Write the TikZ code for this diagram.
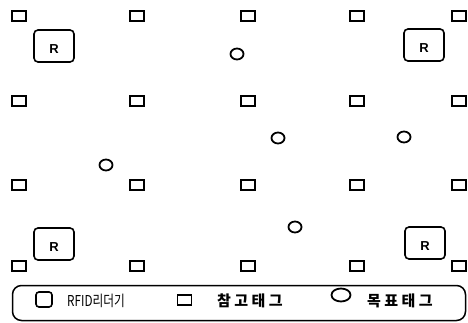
\documentclass[tikz,border=0pt]{standalone}
\usepackage{fontspec}
\setsansfont{Liberation Sans}
\newfontfamily\kofont{Noto Sans CJK KR}
\usepackage{tikz}
\usetikzlibrary{shapes.geometric, positioning}

\begin{document}
\begin{tikzpicture}[
    x=1pt, y=-1pt,
    reftag/.style={rectangle, draw=black, line width=1.8pt, minimum width=14pt, minimum height=10pt, inner sep=0pt},
    reader/.style={rectangle, draw=black, rounded corners=4pt, line width=1.6pt, minimum width=40pt, minimum height=32pt, inner sep=0pt, font=\sffamily\bfseries\fontsize{13}{15}\selectfont, text height=15pt, text depth=0pt},
    target/.style={ellipse, draw=black, line width=1.8pt, minimum width=13pt, minimum height=11pt, inner sep=0pt},
    legendbox/.style={rectangle, draw=black, line width=1.5pt, rounded corners=9pt, minimum width=453pt, minimum height=35pt, inner sep=0pt},
    legendtext/.style={font=\kofont\bfseries\fontsize{15}{17}\selectfont, anchor=west, inner sep=0pt},
]
\useasboundingbox (0,0) rectangle (468,323);

% ── Reference tags (grid) ──
\node[reftag] (t11) at (19,16) {};
\node[reftag] (t12) at (137,16) {};
\node[reftag] (t13) at (248,16) {};
\node[reftag] (t14) at (357,16) {};
\node[reftag] (t15) at (459,16) {};

\node[reftag] (t21) at (19,101) {};
\node[reftag] (t22) at (137,101) {};
\node[reftag] (t23) at (248,101) {};
\node[reftag] (t24) at (357,101) {};
\node[reftag] (t25) at (459,101) {};

\node[reftag] (t31) at (19,185) {};
\node[reftag] (t32) at (137,185) {};
\node[reftag] (t33) at (248,185) {};
\node[reftag] (t34) at (357,185) {};
\node[reftag] (t35) at (459,185) {};

\node[reftag] (t41) at (19,266) {};
\node[reftag] (t42) at (137,266) {};
\node[reftag] (t43) at (248,266) {};
\node[reftag] (t44) at (357,266) {};
\node[reftag] (t45) at (459,266) {};

% ── RFID readers ──
\node[reader] (r1) at (54,46) {R};
\node[reader] (r2) at (424,45) {R};
\node[reader] (r3) at (54,244) {R};
\node[reader] (r4) at (425,243) {R};

% ── Target tags ──
\node[target] (g1) at (237,54) {};
\node[target] (g2) at (278,138) {};
\node[target] (g3) at (404,137) {};
\node[target] (g4) at (106,165) {};
\node[target] (g5) at (295,227) {};

% ── Legend ──
\node[legendbox] (legend) at (239,303) {};
\node[reader, minimum width=16pt, minimum height=11pt, rounded corners=3pt] (lreader) at (44,299.5) {};
\node[legendtext, font=\kofont\fontsize{15}{17}\selectfont] (lreadertxt) at (67,301) {\scalebox{0.78}[1]{RFID리더기}};
\node[reftag] (lref) at (184.5,300) {};
\node[legendtext] (lreftxt) at (217,301) {참 고 태 그};
\node[target, minimum width=19pt, minimum height=13pt] (ltarget) at (341,295) {};
\node[legendtext] (ltargettxt) at (367,301) {목 표 태 그};

\end{tikzpicture}
\end{document}
